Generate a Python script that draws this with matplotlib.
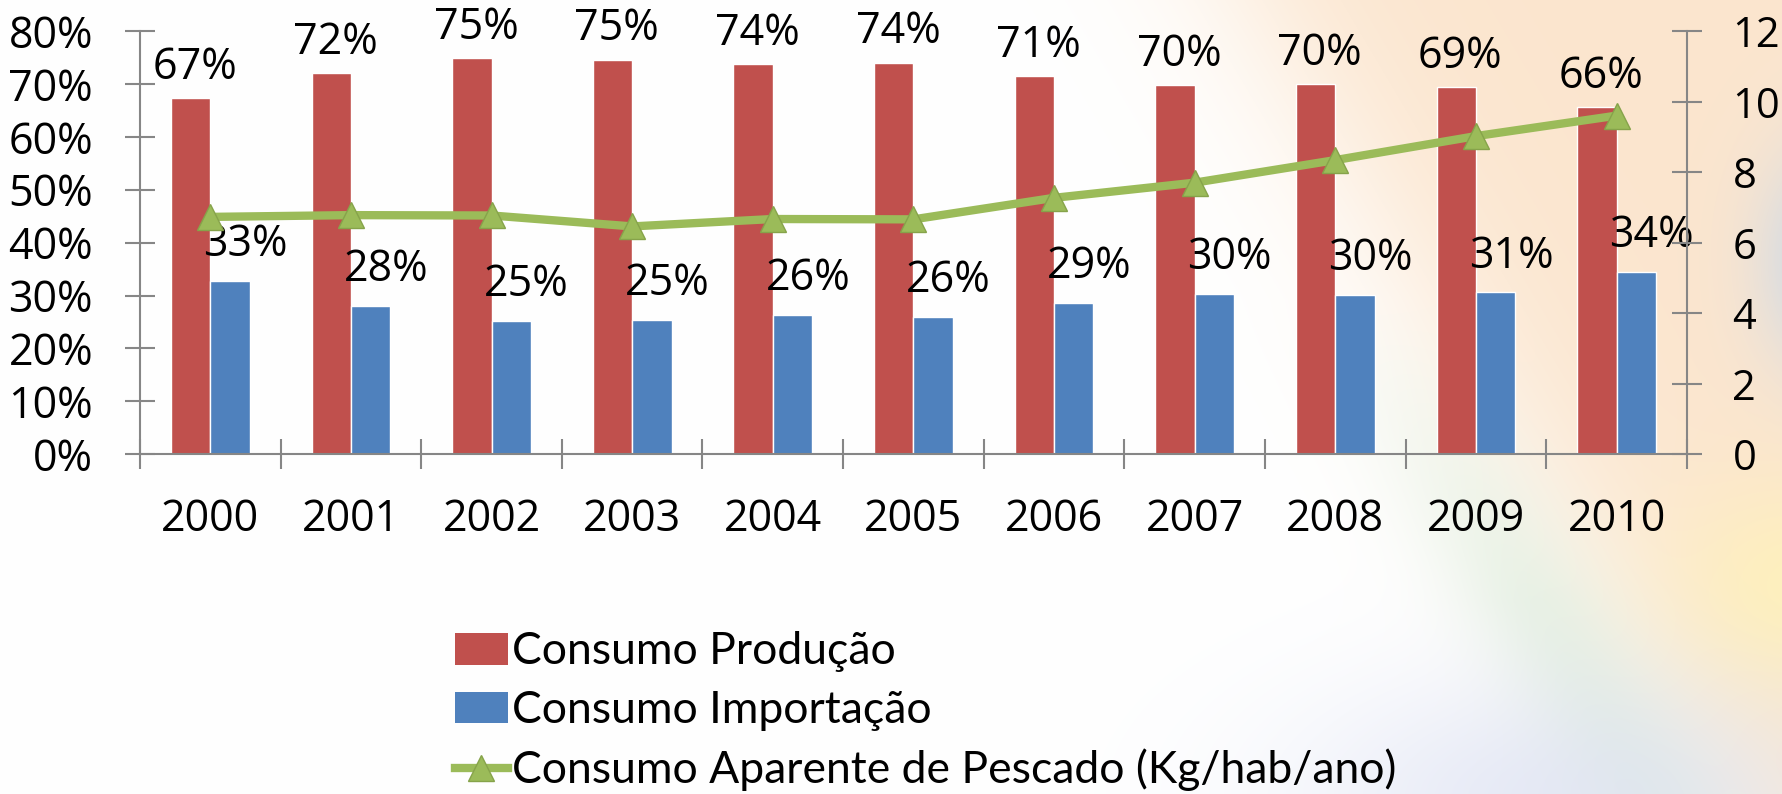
import numpy as np
import matplotlib.pyplot as plt
from matplotlib.patches import Patch
from matplotlib.lines import Line2D

# Dados
anos = ['2000', '2001', '2002', '2003', '2004', '2005', '2006', '2007', '2008', '2009', '2010']
producao = [0.673, 0.72, 0.748, 0.746, 0.737, 0.74, 0.714, 0.697, 0.699, 0.694, 0.656]
importacao = [0.327, 0.28, 0.252, 0.254, 0.263, 0.26, 0.286, 0.303, 0.301, 0.306, 0.344]
consumo_kg = [6.73, 6.78, 6.77, 6.46, 6.67, 6.66, 7.27, 7.70, 8.34, 9.02, 9.6]

# Cores
vermelho = '#C0504D'
azul = '#4F81BD'
verde = '#9BBB59'
cinza = '#868686'

plt.rcParams['font.family'] = ['Open Sans', 'DejaVu Sans']

fig = plt.figure(figsize=(17.83, 7.94), dpi=100)

# Fundo (bandeira esmaecida no canto direito)
h, w = 794, 1783
yy, xx = np.mgrid[0:h, 0:w].astype(float)
img = np.ones((h, w, 3))

def mistura(img, cor, alfa):
    return img * (1 - alfa[..., None]) + np.array(cor)[None, None, :] * alfa[..., None]

# faixa pessego: lado direito de uma linha diagonal
p0 = np.array([1250.0, 0.0])
p1 = np.array([1700.0, 760.0])
d = ((p1[0] - p0[0]) * (yy - p0[1]) - (p1[1] - p0[1]) * (xx - p0[0])) / np.hypot(*(p1 - p0))
alfa_p = 1 / (1 + np.exp(d / 50.0))
img = mistura(img, (0.985, 0.895, 0.80), alfa_p * 0.95)
# faixa verde ao longo da borda
alfa_v = np.exp(-((d - 60) / 70.0) ** 2) * np.clip((yy - 300) / 300, 0, 1)
img = mistura(img, (0.86, 0.93, 0.86), alfa_v * 0.6)
# amarelo na borda direita
alfa_a = np.exp(-(((xx - 1800) / 130.0) ** 2 + ((yy - 590) / 110.0) ** 2))
img = mistura(img, (1.0, 0.95, 0.72), alfa_a * 0.8)
# azul claro embaixo
alfa_b = np.exp(-(((xx - 1560) / 260.0) ** 2 + ((yy - 800) / 130.0) ** 2))
img = mistura(img, (0.86, 0.88, 0.95), alfa_b * 0.7)
# disco azul na borda
alfa_c = np.exp(-(((xx - 1830) / 70.0) ** 2 + ((yy - 260) / 110.0) ** 2))
img = mistura(img, (0.72, 0.83, 0.95), alfa_c * 0.7)

bg = fig.add_axes([0, 0, 1, 1], zorder=-10)
bg.imshow(img, aspect='auto', extent=[0, 1, 0, 1], interpolation='bilinear')
bg.axis('off')

# Graficos
ax = fig.add_axes([0.0785, 0.4278, 0.8676, 0.5332])
ax.set_facecolor('none')
x = np.arange(len(anos))
larg = 0.28

ax.bar(x - larg / 2, producao, larg, color=vermelho, edgecolor='white', linewidth=1)
ax.bar(x + larg / 2, importacao, larg, color=azul, edgecolor='white', linewidth=1)

for xi, v in zip(x, producao):
    ax.annotate(f'{v:.0%}', (xi - larg / 2, v), xytext=(3, 22), textcoords='offset points',
                ha='center', va='center', fontsize=31)
for xi, v in zip(x, importacao):
    ax.annotate(f'{v:.0%}', (xi + larg / 2, v), xytext=(11, 26), textcoords='offset points',
                ha='center', va='center', fontsize=31)

ax.set_xlim(-0.5, len(anos) - 0.5)
ax.set_ylim(0, 0.8)
ax.set_yticks(np.arange(0, 0.81, 0.1))
ax.set_yticklabels([f'{t:.0%}' for t in np.arange(0, 0.81, 0.1)])
ax.set_xticks(x)
ax.set_xticklabels(anos)
ax.set_xticks(np.arange(-0.5, len(anos)), minor=True)
ax.tick_params(axis='y', direction='inout', length=21.6, width=1.5, color=cinza, labelsize=31, pad=23)
ax.tick_params(axis='x', which='major', length=0, labelsize=31, pad=31)
ax.tick_params(axis='x', which='minor', direction='inout', length=21.6, width=1.5, color=cinza)
for s in ['top', 'right']:
    ax.spines[s].set_visible(False)
for s in ['left', 'bottom']:
    ax.spines[s].set_color(cinza)
    ax.spines[s].set_linewidth(1.5)

ax2 = ax.twinx()
ax2.plot(x, consumo_kg, color=verde, lw=6, marker='^', ms=19, mfc=verde, mec='#86a34a', mew=1)
ax2.set_ylim(0, 12)
ax2.set_yticks(range(0, 13, 2))
ax2.tick_params(axis='y', direction='inout', length=21.6, width=1.5, color=cinza, labelsize=30, pad=22)
for s in ['top', 'left', 'bottom']:
    ax2.spines[s].set_visible(False)
ax2.spines['right'].set_color(cinza)
ax2.spines['right'].set_linewidth(1.5)

# Legenda
handles = [
    Patch(facecolor=vermelho, edgecolor='none'),
    Patch(facecolor=azul, edgecolor='none'),
    Line2D([], [], color=verde, lw=6, marker='^', ms=19, mfc=verde, mec='#86a34a'),
]
labels = ['Consumo Produção', 'Consumo Importação', 'Consumo Aparente de Pescado (Kg/hab/ano)']
fig.legend(handles, labels, loc='upper left', bbox_to_anchor=(0.255, 0.205), frameon=False,
           borderpad=0, borderaxespad=0, handlelength=1.19, handleheight=0.72,
           handletextpad=0.09, labelspacing=0.40,
           prop={'family': ['Lato', 'DejaVu Sans'], 'size': 32})

fig.savefig('out.png', dpi=100)
